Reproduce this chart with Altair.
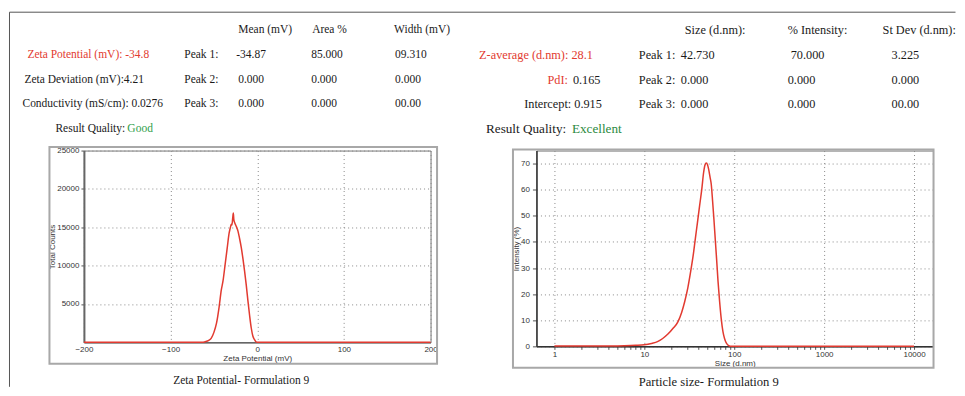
import altair as alt
import pandas as pd

# ---------------- data ----------------
zeta_mv = [-200, -64, -60, -56, -53, -50, -47, -44, -41.5, -39.5, -37, -34.6, -32.5, -31,
           -30, -29.2, -28.3, -27.6, -27, -26.1, -24.5, -22.3, -20.5, -18.4, -16.5, -14.6,
           -12.6, -10.7, -8.8, -6.9, -5, -3.1, -1.5, 0, 3, 200]
zeta_counts = [0, 0, 80, 250, 560, 1300, 2500, 4600, 6800, 8000, 10200, 12340, 14200, 14960,
               15400, 15300, 16200, 16850, 16000, 15620, 15200, 14530, 13600, 12340, 10900, 9290,
               7400, 5370, 3500, 1870, 800, 350, 80, 0, 0, 0]

size_nm = [1, 2, 4, 6, 8, 10, 12, 14.2, 16, 18.3, 21, 23.7, 26, 28.1, 30.5, 32.7, 35, 36.9,
           39, 41.2, 43.5, 45.6, 47.3, 48.9, 50.5, 51.9, 53.7, 55.5, 57.5, 59.4, 61.5, 63.6,
           66, 68.8, 71.7, 74.8, 78, 81.5, 85, 88.3, 92, 100, 1000, 10000]
intensity_pct = [0.1, 0.1, 0.15, 0.25, 0.4, 0.6, 1.1, 1.9, 3.0, 4.7, 7.0, 9.5, 13, 17.1, 22.5,
                 28.5, 35, 41.2, 47.5, 53.9, 60, 66.5, 69.5, 70.2, 69.5, 67.9, 65, 62.1, 55.5,
                 48.8, 41, 33.6, 25, 17.1, 10.5, 5.7, 3, 1.3, 0.5, 0.1, 0, 0, 0, 0]

zeta_x_ticks = [-200, -100, 0, 100, 200]
zeta_y_ticks = [5000, 10000, 15000, 20000, 25000]
size_major = [1, 10, 100, 1000, 10000]
size_minor = [k * 10 ** e for e in range(0, 4) for k in range(2, 10)]
intensity_ticks = [0, 10, 20, 30, 40, 50, 60, 70]

# header texts
left_cols = ["Mean (mV)", "Area %", "Width (mV)"]
left_summary = ["Zeta Potential (mV): -34.8", "Zeta Deviation (mV):4.21", "Conductivity (mS/cm): 0.0276"]
peak_labels = ["Peak 1:", "Peak 2:", "Peak 3:"]
zeta_mean = ["-34.87", "0.000", "0.000"]
zeta_area = ["85.000", "0.000", "0.000"]
zeta_width = ["09.310", "0.000", "00.00"]

right_cols = ["Size (d.nm):", "% Intensity:", "St Dev (d.nm):"]
size_vals = ["42.730", "0.000", "0.000"]
intensity_vals = ["70.000", "0.000", "0.000"]
stdev_vals = ["3.225", "0.000", "00.00"]
zavg_text = "Z-average (d.nm): 28.1"
pdi_label, pdi_value = "PdI:", "0.165"
intercept_text = "Intercept: 0.915"
quality_label = "Result Quality:"
zeta_quality = "Good"
size_quality = "Excellent"
caption_left = "Zeta Potential- Formulation 9"
caption_right = "Particle size- Formulation 9"

# ---------------- layout (page pixels) ----------------
RED = "#e23a30"
GREEN = "#2f9e4a"
GREEN2 = "#2b8a3e"
BLACK = "#1a1a1a"
OX, OY = 82.5, 149.5          # page position of left plot origin
W_L, H_L = 347, 192
W_R, H_R = 397, 196
GAP = 106
RX = OX + W_L + GAP            # page x of right plot origin
FS_L, FS_R = 11.5, 12.3

row_y = [29, 54, 79, 103]
quality_y = 128

rows = []
def add(t, x, y, c, a, fs):
    rows.append({"t": t, "px": x, "py": y, "c": c, "a": a, "fs": fs})

for txt, x in zip(left_cols, [237, 311, 393]):
    add(txt, x, row_y[0], BLACK, "left", FS_L)
for i in range(3):
    add(left_summary[i], [26, 23, 21][i], row_y[i + 1], RED if i == 0 else BLACK, "left", FS_L)
    add(peak_labels[i], 183, row_y[i + 1], BLACK, "left", FS_L)
    add(zeta_mean[i], 235 if i == 0 else 237, row_y[i + 1], BLACK, "left", FS_L)
    add(zeta_area[i], 310, row_y[i + 1], BLACK, "left", FS_L)
    add(zeta_width[i], 394, row_y[i + 1], BLACK, "left", FS_L)
for txt, x in zip(right_cols, [684, 787, 882]):
    add(txt, x, row_y[0], BLACK, "left", FS_R)
for i in range(3):
    add(peak_labels[i], 638, row_y[i + 1], BLACK, "left", FS_R)
    add(size_vals[i], 680, row_y[i + 1], BLACK, "left", FS_R)
    add(intensity_vals[i], 790 if i == 0 else 787, row_y[i + 1], BLACK, "left", FS_R)
    add(stdev_vals[i], 891, row_y[i + 1], BLACK, "left", FS_R)
add(zavg_text, 592, row_y[1], RED, "right", FS_R)
add(pdi_label, 567, row_y[2], RED, "right", FS_R)
add(pdi_value, 572, row_y[2], BLACK, "left", FS_R)
add(intercept_text, 601, row_y[3], BLACK, "right", FS_R)
add(quality_label, 54, quality_y, BLACK, "left", FS_L)
add(zeta_quality, 126, quality_y, GREEN, "left", FS_L)
add(quality_label, 485, quality_y, BLACK, "left", 13.2)
add(size_quality, 571, quality_y, GREEN2, "left", 13.2)
add(caption_left, 240, 380.5, BLACK, "center", FS_L)
add(caption_right, 708, 381.5, BLACK, "center", 12.6)
text_df = pd.DataFrame(rows)

one = pd.DataFrame({"k": [0]})
SERIF = "Liberation Serif"

def text_layer(align):
    return alt.Chart(text_df[text_df.a == align]).mark_text(
        font=SERIF, align=align, baseline="middle"
    ).encode(
        x=alt.X("px:Q", scale=alt.Scale(domain=[0, 965], range=[-OX, 965 - OX], nice=False, zero=False), axis=None),
        y=alt.Y("py:Q", scale=alt.Scale(domain=[0, 396], range=[-OY, 396 - OY], nice=False, zero=False), axis=None),
        text="t:N",
        color=alt.Color("c:N", scale=None),
        size=alt.Size("fs:Q", scale=None),
    )

# outer figure border (top + left)
top_rule = alt.Chart(one).mark_rule(color="#555", strokeWidth=1).encode(
    x=alt.value(8 - OX), x2=alt.value(955 - OX), y=alt.value(11 - OY))
left_rule = alt.Chart(one).mark_rule(color="#555", strokeWidth=1).encode(
    x=alt.value(8 - OX), y=alt.value(11 - OY), y2=alt.value(386 - OY))

# left panel frame
frame_l = alt.Chart(one).mark_rect(filled=False, stroke="#a8a8a8", strokeWidth=2).encode(
    x=alt.value(48 - OX), x2=alt.value(436 - OX), y=alt.value(146 - OY), y2=alt.value(363 - OY))

zeta_df = pd.DataFrame({"mv": zeta_mv, "counts": zeta_counts})
zeta_line = alt.Chart(zeta_df).mark_line(color=RED, strokeWidth=1.5, interpolate="monotone").encode(
    x=alt.X("mv:Q", scale=alt.Scale(domain=[-200, 200], nice=False, zero=False),
            axis=alt.Axis(values=zeta_x_ticks, format="d", title="Zeta Potential (mV)", ticks=False,
                          labelPadding=3, titlePadding=1, domainColor="#666", domainWidth=1.5)),
    y=alt.Y("counts:Q", scale=alt.Scale(domain=[0, 25000], nice=False),
            axis=alt.Axis(values=zeta_y_ticks, format="d", title="Total Counts", tickSize=3,
                          labelPadding=2, titlePadding=0, domainColor="#666", domainWidth=2)),
)

left = alt.layer(
    top_rule, left_rule, frame_l, zeta_line,
    text_layer("left"), text_layer("right"), text_layer("center")
).resolve_scale(x="independent", y="independent").properties(width=W_L, height=H_L)

# right panel
frame_r = alt.Chart(one).mark_rect(filled=False, stroke="#a8a8a8", strokeWidth=2).encode(
    x=alt.value(512 - RX), x2=alt.value(933 - RX), y=alt.value(148.5 - OY), y2=alt.value(367 - OY))

size_df = pd.DataFrame({"size": size_nm, "intensity": intensity_pct})
size_values = sorted(size_major + size_minor)
size_line = alt.Chart(size_df).mark_line(color=RED, strokeWidth=1.5, interpolate="monotone").encode(
    x=alt.X("size:Q", scale=alt.Scale(type="log", domain=[0.631, 16255], nice=False),
            axis=alt.Axis(values=size_values, format="d", title="Size (d.nm)",
                          labelExpr="indexof(['1','10','100','1000','10000'], datum.label) >= 0 ? datum.label : ''",
                          gridOpacity={"condition": {"test": "indexof([1,10,100,1000,10000], datum.value) >= 0",
                                                     "value": 1}, "value": 0},
                          labelOverlap=False, tickSize=3, labelPadding=1, titlePadding=1,
                          domainColor="#333", domainWidth=1.5)),
    y=alt.Y("intensity:Q", scale=alt.Scale(domain=[0, 75], nice=False),
            axis=alt.Axis(values=intensity_ticks, format="d", title="Intensity (%)", tickSize=4,
                          labelPadding=3, titlePadding=0, domainColor="#333", domainWidth=1.5)),
)

right = alt.layer(frame_r, size_line).properties(width=W_R, height=H_R)

chart = alt.hconcat(left, right, spacing=GAP, bounds="flush").properties(
    padding={"left": 0, "top": 2.5, "right": 0, "bottom": 0}
).configure_view(
    stroke="#777", strokeWidth=1
).configure_axis(
    labelFont="Liberation Sans", titleFont="Liberation Sans", labelFontSize=8, titleFontSize=8,
    labelColor="#333", titleColor="#333", titleFontWeight="normal", gridColor="#8a8a8a",
    gridDash=[1, 3], gridWidth=1, tickColor="#555", labelFlush=False
)

chart.save("out.html", embed_options={"renderer": "svg", "actions": False})
